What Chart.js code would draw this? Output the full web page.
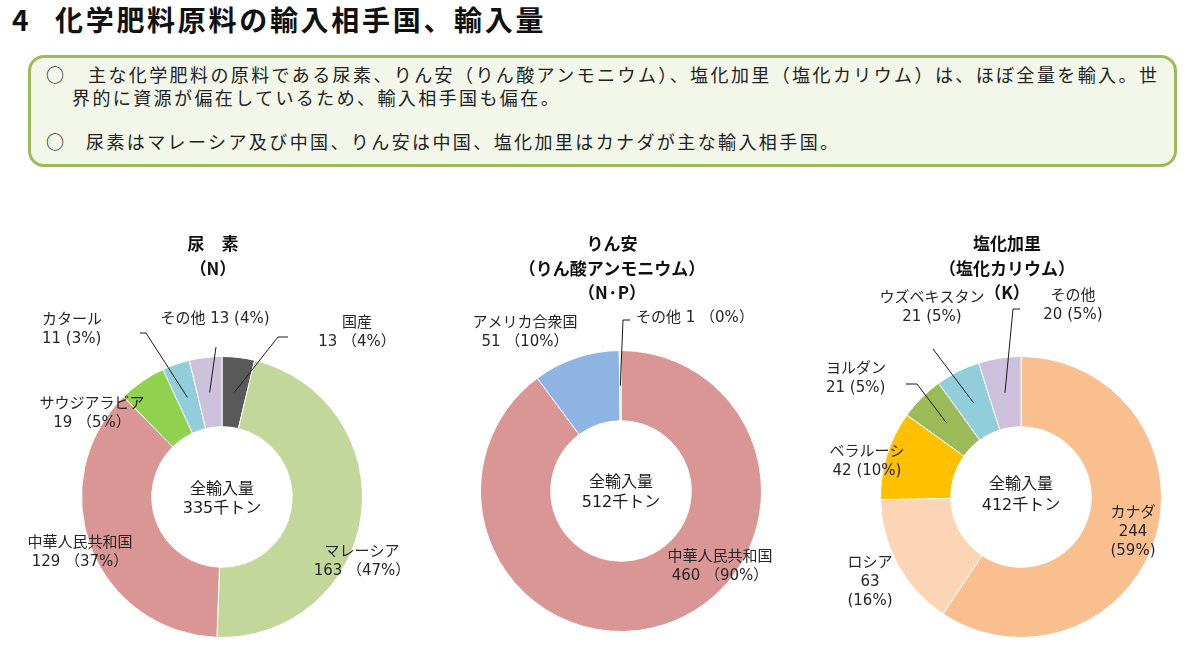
<!DOCTYPE html>
<html lang="ja">
<head>
<meta charset="utf-8">
<title>化学肥料原料の輸入相手国、輸入量</title>
<script src="https://cdn.jsdelivr.net/npm/chart.js@4.4.0/dist/chart.umd.min.js"></script>
<style>
  html, body { margin:0; padding:0; background:#fff; }
  body { width:1200px; height:651px; position:relative; overflow:hidden;
         font-family:"Noto Sans CJK JP","Noto Sans",sans-serif; color:#1a1a1a; }
  .abs { position:absolute; white-space:nowrap; }
  #pageTitle { left:12px; top:1px; font-size:28px; font-weight:700; line-height:36px; letter-spacing:2.7px; color:#111; }
  #note { left:28px; top:55px; width:1143px; height:106px; border:3px solid #9bbb59; border-radius:16px; background:#f3f7ea; }
  .ln { font-size:18px; line-height:22px; letter-spacing:2.4px; color:#222; }
  .ctitle { font-size:17px; font-weight:700; line-height:24.5px; text-align:center; transform:translateX(-50%); color:#111; z-index:2; }
  canvas { position:absolute; top:230px; z-index:1; }
</style>
</head>
<body>

<div id="pageTitle" class="abs">4<span style="position:absolute;left:43px;">化学肥料原料の輸入相手国、輸入量</span></div>

<div id="note" class="abs"></div>
<div class="abs ln" style="left:46px;top:63px;">○</div>
<div class="abs ln" style="left:88px;top:63px;">主な化学肥料の原料である尿素、りん安（りん酸アンモニウム）、塩化加里（塩化カリウム）は、ほぼ全量を輸入。世</div>
<div class="abs ln" style="left:72px;top:86px;">界的に資源が偏在しているため、輸入相手国も偏在。</div>
<div class="abs ln" style="left:46px;top:130px;">○</div>
<div class="abs ln" style="left:86px;top:130px;">尿素はマレーシア及び中国、りん安は中国、塩化加里はカナダが主な輸入相手国。</div>

<div class="abs ctitle" style="left:213px;top:231px;">尿　素<br>（N）</div>
<div class="abs ctitle" style="left:612px;top:231px;">りん安<br>（りん酸アンモニウム）<br>（N·P）</div>
<div class="abs ctitle" style="left:1007px;top:231px;">塩化加里<br>（塩化カリウム）<br>（K）</div>

<canvas id="ureaChart" width="420" height="421" style="left:0px;"></canvas>
<canvas id="mapChart" width="400" height="421" style="left:420px;"></canvas>
<canvas id="potashChart" width="380" height="421" style="left:820px;"></canvas>

<script>
// 尿素 (N) 千トン
const ureaNames  = ['国産', 'マレーシア', '中華人民共和国', 'サウジアラビア', 'カタール', 'その他'];
const ureaValues = [13, 163, 129, 19, 11, 13];
const ureaPcts   = [4, 47, 37, 5, 3, 4];
const ureaTotal  = 335;

// りん安 (N・P)
const mapNames  = ['中華人民共和国', 'アメリカ合衆国', 'その他'];
const mapValues = [460, 51, 1];
const mapPcts   = [90, 10, 0];
const mapTotal  = 512;

// 塩化加里 (K)
const potashNames  = ['カナダ', 'ロシア', 'ベラルーシ', 'ヨルダン', 'ウズベキスタン', 'その他'];
const potashValues = [244, 63, 42, 21, 21, 20];
const potashPcts   = [59, 16, 10, 5, 5, 5];
const potashTotal  = 412;

const ureaColors   = ['#595959', '#c4d79b', '#da9694', '#92d050', '#92cddc', '#ccc0da'];
const mapColors    = ['#da9694', '#8db4e2', '#c4d79b'];
const potashColors = ['#fabf8f', '#fcd5b4', '#ffc000', '#9bbb59', '#92cddc', '#ccc0da'];

const wide   = (v, p) => `${v} （${p}%）`;
const narrow = (v, p) => `${v} (${p}%)`;

// label placement, offsets from the doughnut centre
const ureaCallouts = [
    { text:(n,v,p) => [n, wide(v,p)],      dx:135,  dy:-174, leader:[[56,-160],[66,-160]] },
    { text:(n,v,p) => [n, wide(v,p)],      dx:140,  dy:55 },
    { text:(n,v,p) => [n, wide(v,p)],      dx:-142, dy:46 },
    { text:(n,v,p) => [n, wide(v,p)],      dx:-130, dy:-93 },
    { text:(n,v,p) => [n, narrow(v,p)],    dx:-180, dy:-177, align:'left', leader:[[-76,-164],[-82,-164]] },
    { text:(n,v,p) => [n + ' ' + narrow(v,p)], dx:-7, dy:-178, leader:[[-6,-150]] }
];
const mapCallouts = [
    { text:(n,v,p) => [n, wide(v,p)],      dx:99,  dy:66 },
    { text:(n,v,p) => [n, wide(v,p)],      dx:-96, dy:-168 },
    { text:(n,v,p) => [n + ' ' + wide(v,p)], dx:15, dy:-173, align:'left', leader:[[2,-171],[9,-171]] }
];
const potashCallouts = [
    { text:(n,v,p) => [n, String(v), `(${p}%)`], dx:112,  dy:16 },
    { text:(n,v,p) => [n, String(v), `(${p}%)`], dx:-151, dy:66 },
    { text:(n,v,p) => [n, narrow(v,p)],    dx:-154, dy:-45 },
    { text:(n,v,p) => [n, narrow(v,p)],    dx:-195, dy:-128, align:'left', leader:[[-104,-113],[-115,-113]] },
    { text:(n,v,p) => [n, narrow(v,p)],    dx:-89,  dy:-199, leader:[[-88,-148]] },
    { text:(n,v,p) => [n, narrow(v,p)],    dx:52,   dy:-201, leader:[[-8,-188],[-1,-188]] }
];

const labelFont = '"DejaVu Sans", "Noto Sans CJK JP"';

const calloutPlugin = {
    id: 'callouts',
    afterDatasetsDraw(chart, args, opts) {
        const ctx  = chart.ctx;
        const meta = chart.getDatasetMeta(0);
        const ds   = chart.data.datasets[0];
        const cx = meta.data[0].x, cy = meta.data[0].y;
        ctx.save();
        ctx.textBaseline = 'middle';
        ctx.font = `15px ${labelFont}`;
        ctx.fillStyle = '#262626';
        ctx.strokeStyle = '#1a1a1a';
        ctx.lineWidth = 1;
        opts.items.forEach((it, i) => {
            const lines = it.text(chart.data.labels[i], ds.data[i], opts.pcts[i]);
            ctx.textAlign = it.align || 'center';
            lines.forEach((t, k) => ctx.fillText(t, cx + it.dx, cy + it.dy + k * 19));
            if (it.leader) {
                const el = meta.data[i];
                const a  = (el.startAngle + el.endAngle) / 2;
                const r  = (el.innerRadius + el.outerRadius) / 2;
                ctx.beginPath();
                ctx.moveTo(el.x + Math.cos(a) * r, el.y + Math.sin(a) * r);
                it.leader.forEach(p => ctx.lineTo(cx + p[0], cy + p[1]));
                ctx.stroke();
            }
        });
        ctx.textAlign = 'center';
        ctx.font = `16px ${labelFont}`;
        ctx.fillStyle = '#1a1a1a';
        ctx.fillText('全輸入量', cx, cy + opts.centreDy[0]);
        ctx.fillText(`${opts.total}千トン`, cx, cy + opts.centreDy[1]);
        ctx.restore();
    }
};

function makeDoughnut(id, names, values, colors, pcts, total, items, pad, centreDy) {
    new Chart(document.getElementById(id), {
        type: 'doughnut',
        data: { labels: names, datasets: [{ data: values, backgroundColor: colors, borderColor: '#ffffff', borderWidth: 1 }] },
        options: {
            responsive: false, animation: false, cutout: '50%',
            layout: { padding: pad },
            plugins: { legend: { display: false }, tooltip: { enabled: false },
                       callouts: { items, pcts, total, centreDy } }
        },
        plugins: [calloutPlugin]
    });
}

makeDoughnut('ureaChart',   ureaNames,   ureaValues,   ureaColors,   ureaPcts,   ureaTotal,   ureaCallouts,
             { left:81, top:126, right:57, bottom:13 }, [-7, 12]);
makeDoughnut('mapChart',    mapNames,    mapValues,    mapColors,    mapPcts,    mapTotal,    mapCallouts,
             { left:60, top:120, right:58, bottom:19 }, [-8, 12]);
makeDoughnut('potashChart', potashNames, potashValues, potashColors, potashPcts, potashTotal, potashCallouts,
             { left:60, top:126, right:38, bottom:13 }, [-12, 9]);
</script>
</body>
</html>
